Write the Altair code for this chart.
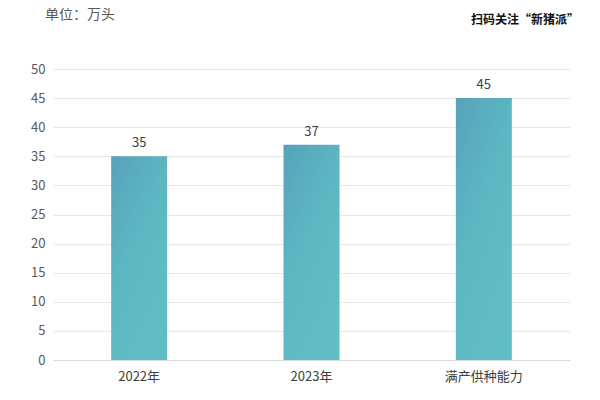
import altair as alt
import pandas as pd

categories = ["2022年", "2023年", "满产供种能力"]
values = [35, 37, 45]
y_ticks = [0, 5, 10, 15, 20, 25, 30, 35, 40, 45, 50]
unit_text = "单位：万头"
brand_text = "扫码关注“新猪派”"

df = pd.DataFrame({"cat": categories, "val": values})

FONT = "Noto Sans CJK SC"

grad = alt.LinearGradient(
    gradient="linear",
    stops=[alt.GradientStop(color="#57a2ba", offset=0),
           alt.GradientStop(color="#5db7c2", offset=0.5),
           alt.GradientStop(color="#61bdc4", offset=1)],
    x1=0, y1=0, x2=0.6, y2=1,
)

x_enc = alt.X("cat:N", sort=categories,
              scale=alt.Scale(paddingInner=0.675, paddingOuter=0.3375),
              axis=alt.Axis(title=None, labelAngle=0, labelFont=FONT, labelFontSize=13,
                            labelColor="#404040", labelPadding=10, ticks=False,
                            domainColor="#d9d9d9", grid=False))
y_enc = alt.Y("val:Q", scale=alt.Scale(domain=[0, 50], nice=False),
              axis=alt.Axis(title=None, values=y_ticks, tickCount=11, labelOverlap=False,
                            labelFont=FONT, labelFontSize=13,
                            labelColor="#595959", labelPadding=8, ticks=False, domain=False,
                            gridColor="#e6e6e6"))

bars = alt.Chart(df).mark_bar(color=grad).encode(x=x_enc, y=y_enc)

labels = alt.Chart(df).mark_text(dy=-13, font=FONT, fontSize=13, color="#404040").encode(
    x=alt.X("cat:N", sort=categories), y=alt.Y("val:Q"), text="val:Q")

unit = alt.Chart(pd.DataFrame({"t": [unit_text]})).mark_text(
    font=FONT, fontSize=14, color="#595959", align="left", baseline="middle"
).encode(x=alt.value(-8), y=alt.value(-54), text="t:N")

brand = alt.Chart(pd.DataFrame({"t": [brand_text]})).mark_text(
    font=FONT, fontSize=12, fontWeight="bold", color="#111111", align="center", baseline="middle"
).encode(x=alt.value(472), y=alt.value(-49), text="t:N")

chart = alt.layer(bars, labels, unit, brand).properties(
    width=517, height=291,
    background="white",
    autosize=alt.AutoSizeParams(type="none"),
    padding={"left": 45, "top": 61, "right": 20, "bottom": 30},
).configure_view(strokeWidth=0, stroke="transparent").configure_axisX(grid=False)

chart.save("out.html", embed_options={"renderer": "svg", "actions": False})
